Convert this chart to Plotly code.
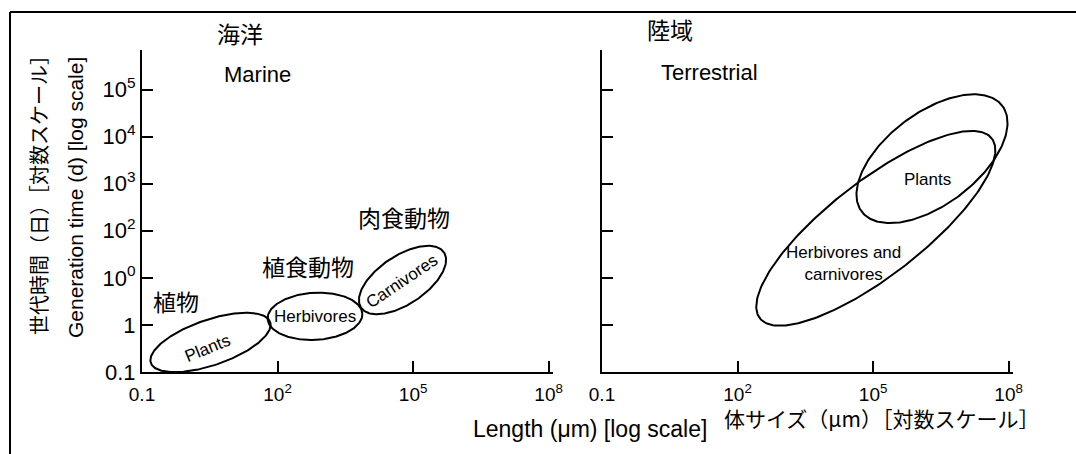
import numpy as np
import plotly.graph_objects as go

# ---------------- data ----------------
x_tick_vals = [0.1, 1e2, 1e5, 1e8]
x_tick_text = ["0.1", "10<sup>2</sup>", "10<sup>5</sup>", "10<sup>8</sup>"]
y_tick_vals = [0.1, 1, 10, 1e2, 1e3, 1e4, 1e5]
y_tick_text = ["0.1", "1", "10<sup>0</sup>", "10<sup>2</sup>", "10<sup>3</sup>",
               "10<sup>4</sup>", "10<sup>5</sup>"]

# Marine ellipses, in log10 units (length, generation time)
marine_groups = ["Plants", "Herbivores", "Carnivores"]
marine_cx = [0.516, 2.829, 4.766]
marine_cy = [-0.373, 0.183, 0.954]
marine_a = [1.39, 1.05, 1.09]
marine_b = [0.485, 0.50, 0.52]
marine_ang = [18, 3, 32]
marine_lx = [0.445, 2.829, 4.748]
marine_ly = [-0.497, 0.175, 0.918]
marine_lang = [-22, 0, -34]
marine_jp = ["植物", "植食動物", "肉食動物"]
marine_jx = [-0.247, 2.681, 4.799]
marine_jy = [0.514, 1.258, 2.286]

# Terrestrial ellipses
terr_groups = ["Herbivores and<br>carnivores", "Plants"]
terr_cx = [5.06, 6.304]
terr_cy = [2.052, 3.531]
terr_a = [3.20, 1.92]
terr_b = [1.02, 0.99]
terr_ang = [36.4, 35]
terr_lx = [4.356, 6.20]
terr_ly = [1.297, 3.093]

W, H = 1076, 454
EN = "Liberation Sans, Arial, Helvetica, sans-serif"
JP = "Noto Sans CJK JP, sans-serif"


def ellipse(cx, cy, a, b, ang):
    t = np.linspace(0, 2 * np.pi, 240)
    th = np.deg2rad(ang)
    lx = cx + a * np.cos(t) * np.cos(th) - b * np.sin(t) * np.sin(th)
    ly = cy + a * np.cos(t) * np.sin(th) + b * np.sin(t) * np.cos(th)
    return 10 ** lx, 10 ** ly


fig = go.Figure()
for i in range(len(marine_groups)):
    ex, ey = ellipse(marine_cx[i], marine_cy[i], marine_a[i], marine_b[i], marine_ang[i])
    fig.add_trace(go.Scatter(x=ex, y=ey, mode="lines", line=dict(color="black", width=2),
                             xaxis="x", yaxis="y", hoverinfo="skip", showlegend=False))
for i in range(len(terr_groups)):
    ex, ey = ellipse(terr_cx[i], terr_cy[i], terr_a[i], terr_b[i], terr_ang[i])
    fig.add_trace(go.Scatter(x=ex, y=ey, mode="lines", line=dict(color="black", width=2),
                             xaxis="x2", yaxis="y2", hoverinfo="skip", showlegend=False))

ann = []
C = dict(xanchor="center", yanchor="middle", showarrow=False)
for i in range(len(marine_groups)):
    ann.append(dict(x=marine_lx[i], y=marine_ly[i], xref="x", yref="y", text=marine_groups[i],
                    textangle=marine_lang[i], font=dict(family=EN, size=17, color="black"), **C))
    ann.append(dict(x=marine_jx[i], y=marine_jy[i], xref="x", yref="y", text=marine_jp[i],
                    font=dict(family=JP, size=23, color="black"), **C))
for i in range(len(terr_groups)):
    ann.append(dict(x=terr_lx[i], y=terr_ly[i], xref="x2", yref="y2", text=terr_groups[i],
                    font=dict(family=EN, size=17, color="black"), **C))

ann.append(dict(x=1.567, y=5.33, xref="x", yref="y", text="Marine",
                font=dict(family=EN, size=22, color="black"), **C))
ann.append(dict(x=1.39, y=5.357, xref="x2", yref="y2", text="Terrestrial",
                font=dict(family=EN, size=22, color="black"), **C))


def P(px, py):
    return px / W, 1 - py / H


for txt, (px, py), fam, size, ang in [
    ("海洋", (240, 33), JP, 23, 0),
    ("陸域", (670, 29), JP, 23, 0),
    ("Length (μm) [log scale]", (590, 429), EN, 23, 0),
    ("体サイズ（μm）［対数スケール］", (882, 418), JP, 21, 0),
    ("世代時間（日）［対数スケール］", (39, 190), JP, 20, -90),
    ("Generation time (d) [log scale]", (75, 198), EN, 21, -90),
]:
    x, y = P(px, py)
    ann.append(dict(x=x, y=y, xref="paper", yref="paper", text=txt, textangle=ang,
                    font=dict(family=fam, size=size, color="black"), **C))

axis_common = dict(type="log", showline=True, linewidth=2, linecolor="black",
                   ticks="inside", ticklen=11, tickwidth=2, tickcolor="black",
                   showgrid=False, zeroline=False, automargin=False)
xfont = dict(family=EN, size=19, color="black")
yfont = dict(family=EN, size=22, color="black")

xdom1 = [142 / W, 552.7 / W]
xdom2 = [602 / W, 1012.7 / W]
ydom = [1 - 372 / H, 1 - 50 / H]

fig.update_layout(
    width=W, height=H, margin=dict(l=0, r=0, t=0, b=0, autoexpand=False),
    paper_bgcolor="white", plot_bgcolor="white", showlegend=False,
    xaxis=dict(domain=xdom1, range=[-1, 8.09], anchor="y", tickvals=x_tick_vals,
               ticktext=x_tick_text, tickfont=xfont, ticklabelstandoff=4, **axis_common),
    yaxis=dict(domain=ydom, range=[-1, 5.84], anchor="x", tickvals=y_tick_vals,
               ticktext=y_tick_text, tickfont=yfont, **axis_common),
    xaxis2=dict(domain=xdom2, range=[-1, 8.09], anchor="y2", tickvals=x_tick_vals,
                ticktext=x_tick_text, tickfont=xfont, ticklabelstandoff=4, **axis_common),
    yaxis2=dict(domain=ydom, range=[-1, 5.84], anchor="x2", tickvals=y_tick_vals,
                showticklabels=False, **axis_common),
    annotations=ann,
    shapes=[
        dict(type="line", xref="paper", yref="paper", x0=10 / W, y0=1 - 12 / H, x1=1.0, y1=1 - 12 / H,
             line=dict(color="black", width=2)),
        dict(type="line", xref="paper", yref="paper", x0=10 / W, y0=1 - 12 / H, x1=10 / W, y1=0,
             line=dict(color="black", width=2)),
    ],
)

fig.write_html("out.html", config={"displayModeBar": False},
               post_script="document.body.style.margin='0';document.body.style.overflow='hidden';")
